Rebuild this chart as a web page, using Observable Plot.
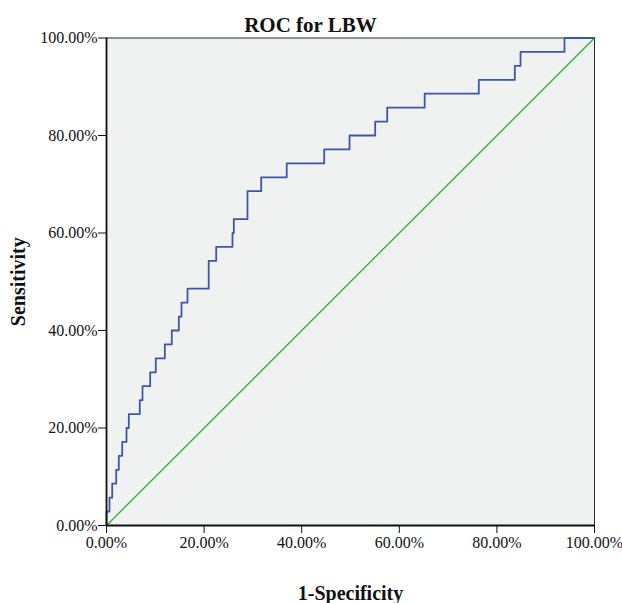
<!DOCTYPE html>
<html>
<head>
<meta charset="utf-8">
<script src="https://cdn.jsdelivr.net/npm/d3@7"></script>
<script src="https://cdn.jsdelivr.net/npm/@observablehq/plot@0.6"></script>
<style>
  html, body { margin: 0; padding: 0; background: #fff; }
</style>
</head>
<body>
<div id="chart"></div>
<script>
// 1-Specificity (%) at each step of the ROC curve
const fpr = [0, 0, 0.61, 1.17, 1.99, 2.52, 3.22, 4.10, 4.57, 6.82, 7.38, 8.95, 10.10, 11.95, 13.38, 14.82, 15.37, 16.60, 20.94, 22.48, 25.82, 26.09, 28.89, 31.70, 36.93, 44.61, 49.80, 55.06, 57.52, 65.20, 76.29, 83.67, 84.84, 93.85, 100];
// Sensitivity (%) reached at each step
const sensitivity = [0, 2.86, 5.71, 8.57, 11.43, 14.29, 17.14, 20.00, 22.86, 25.71, 28.57, 31.43, 34.29, 37.14, 40.00, 42.86, 45.71, 48.57, 54.29, 57.14, 60.00, 62.86, 68.57, 71.43, 74.29, 77.14, 80.00, 82.86, 85.71, 88.57, 91.43, 94.29, 97.14, 100, 100];
const refX = [0, 100];
const refY = [0, 100];
const xTicks = [0, 20, 40, 60, 80, 100];
const yTicks = [0, 20, 40, 60, 80, 100];
const title = "ROC for LBW";
const xLabel = "1-Specificity";
const yLabel = "Sensitivity";

const roc = fpr.map((x, i) => ({x, y: sensitivity[i]}));
const ref = refX.map((x, i) => ({x, y: refY[i]}));
const fmt = d => d.toFixed(2) + "%";

const chart = Plot.plot({
  width: 622,
  height: 603,
  marginLeft: 106,
  marginRight: 28,
  marginTop: 37.5,
  marginBottom: 78,
  style: {fontFamily: "'Liberation Serif', 'Times New Roman', serif", fontSize: "16px", color: "#111", background: "#fff"},
  x: {domain: [0, 100]},
  y: {domain: [0, 100]},
  marks: [
    Plot.frame({fill: "#f0f1f1", stroke: "#2a2a2a", strokeWidth: 1}),
    Plot.axisX({ticks: xTicks, tickFormat: fmt, tickSize: 8, tickPadding: 3, label: null, fontSize: 16, stroke: "#111", fill: "#111"}),
    Plot.axisY({ticks: yTicks, tickFormat: fmt, tickSize: 8, tickPadding: 1, label: null, fontSize: 16, stroke: "#111", fill: "#111"}),
    Plot.line(ref, {x: "x", y: "y", stroke: "#2fb34b", strokeWidth: 1.4}),
    Plot.line(roc, {x: "x", y: "y", curve: "step-after", stroke: "#3d57a8", strokeWidth: 1.8}),
    Plot.ruleX([0], {stroke: "#111", strokeWidth: 1.8}),
    Plot.ruleY([0], {stroke: "#111", strokeWidth: 1.8}),
    Plot.text([title], {frameAnchor: "top", lineAnchor: "middle", textAnchor: "middle", dy: -13, dx: -40, fontSize: 21, fontWeight: "bold", fill: "#111"}),
    Plot.text([xLabel], {frameAnchor: "bottom", lineAnchor: "middle", textAnchor: "middle", dy: 68, fontSize: 20, fontWeight: "bold", fill: "#111"}),
    Plot.text([yLabel], {frameAnchor: "left", lineAnchor: "middle", textAnchor: "middle", dx: -88, rotate: -90, fontSize: 20, fontWeight: "bold", fill: "#111"})
  ]
});
document.getElementById("chart").appendChild(chart);
</script>
</body>
</html>
